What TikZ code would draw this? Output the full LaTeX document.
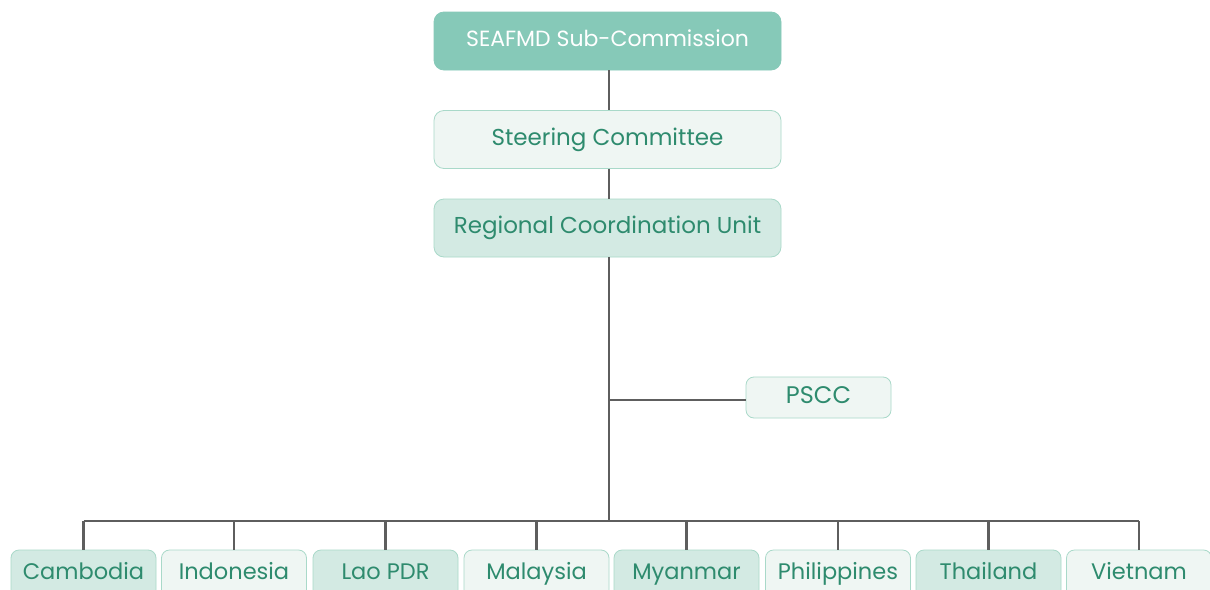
\documentclass[tikz,border=0pt]{standalone}
\usepackage{fontspec}
\setmainfont{Poppins}
\definecolor{topfill}{HTML}{86C9B8}
\definecolor{darkfill}{HTML}{D3EAE3}
\definecolor{lightfill}{HTML}{EFF6F3}
\definecolor{boxline}{HTML}{A9D9C9}
\definecolor{tealtext}{HTML}{2E8B6E}
\definecolor{linkgray}{HTML}{5E5E5E}
\tikzset{
	orgbox/.style={draw=boxline, line width=0.8pt, rounded corners=10pt, minimum width=347pt, minimum height=58pt, text=tealtext, text height=17pt, text depth=6pt, font=\fontsize{23}{26}\selectfont},
	topbox/.style={orgbox, fill=topfill, draw=topfill, text=white, font=\fontsize{22}{26}\selectfont},
	countrybox/.style={draw=boxline, line width=0.8pt, rounded corners=8pt, minimum width=145pt, minimum height=52pt, text=tealtext, text height=17pt, text depth=10pt, font=\fontsize{22.5}{26}\selectfont},
	link/.style={draw=linkgray, line width=2.5pt}
}
\begin{document}
\begin{tikzpicture}[x=1pt, y=-1pt]
	
	\useasboundingbox[fill=white] (0,0) rectangle (1210,589);
	\clip (0,0) rectangle (1210,589);
	\node[topbox] (sub) at (607.5,41) {SEAFMD Sub-Commission};
	\node[orgbox, fill=lightfill] (steer) at (607.5,139.5) {Steering Committee};
	\node[orgbox, fill=darkfill] (rcu) at (607.5,228) {Regional Coordination Unit};
	\node[countrybox, fill=lightfill, minimum height=41pt, text depth=6pt, font=\fontsize{24}{26}\selectfont] (pscc) at (818.5,397.5) {PSCC};
	\coordinate (bus) at (609,521);
	\coordinate (branch) at (609,400);
	
	\node[countrybox, fill=darkfill] (khm) at (83.5,576) {Cambodia};
	\node[countrybox, fill=lightfill] (idn) at (234,576) {Indonesia};
	\node[countrybox, fill=darkfill] (lao) at (385.5,576) {Lao PDR};
	\node[countrybox, fill=lightfill] (mys) at (536.5,576) {Malaysia};
	\node[countrybox, fill=darkfill] (mmr) at (686.5,576) {Myanmar};
	\node[countrybox, fill=lightfill] (phl) at (838,576) {Philippines};
	\node[countrybox, fill=darkfill] (tha) at (988.5,576) {Thailand};
	\node[countrybox, fill=lightfill] (vnm) at (1139,576) {Vietnam};
	
	\draw[link] (sub.south -| 609,0) -- (steer.north -| 609,0);
	\draw[link] (steer.south -| 609,0) -- (rcu.north -| 609,0);
	\draw[link] (rcu.south -| 609,0) -- (bus);
	\draw[link] (branch) -- (pscc.west |- branch);
	\draw[link] (khm.north |- bus) -- (vnm.north |- bus);
	\draw[link] (khm.north |- bus) -- (khm.north);
	\draw[link] (idn.north |- bus) -- (idn.north);
	\draw[link] (lao.north |- bus) -- (lao.north);
	\draw[link] (mys.north |- bus) -- (mys.north);
	\draw[link] (mmr.north |- bus) -- (mmr.north);
	\draw[link] (phl.north |- bus) -- (phl.north);
	\draw[link] (tha.north |- bus) -- (tha.north);
	\draw[link] (vnm.north |- bus) -- (vnm.north);
	\end{tikzpicture}
\end{document}
